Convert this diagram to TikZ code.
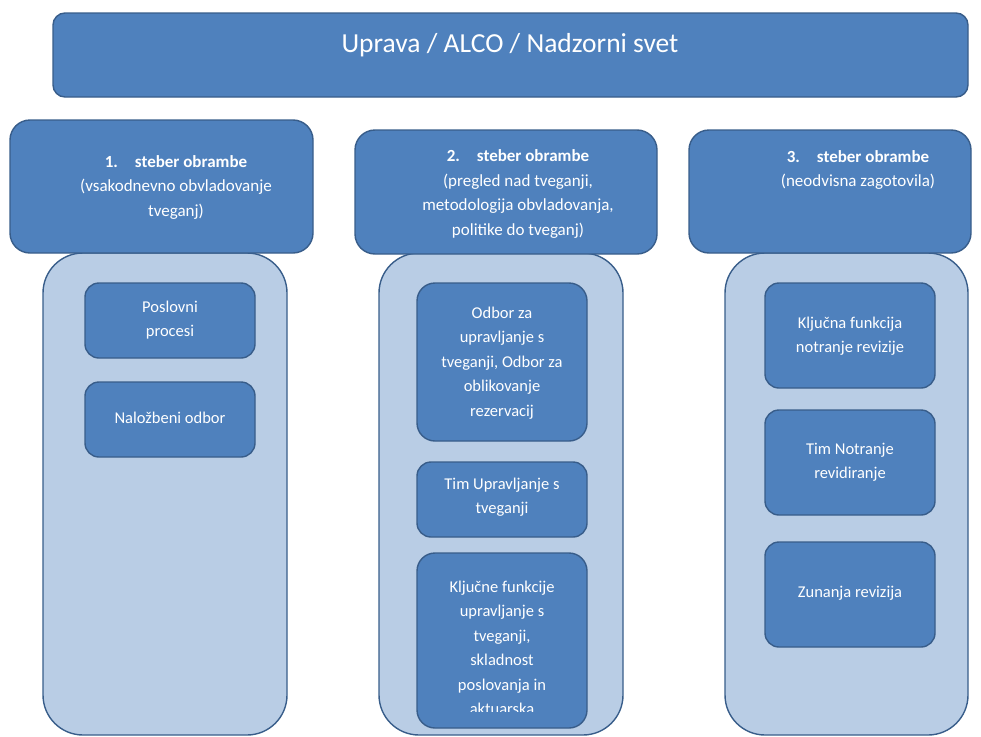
\documentclass[tikz,border=0pt]{standalone}
\usepackage{fontspec}
\setmainfont{Carlito}
\definecolor{boxblue}{HTML}{4F81BD}
\definecolor{edgeblue}{HTML}{385D8A}
\definecolor{paleblue}{HTML}{B9CDE5}
\begin{document}
\begin{tikzpicture}[x=1pt,y=-1pt,
  box/.style={draw=edgeblue,fill=boxblue,line width=1.4pt,anchor=north west,inner sep=0pt,outer sep=0pt},
  cont/.style={draw=edgeblue,fill=paleblue,line width=1.4pt,anchor=north west,inner sep=0pt,outer sep=0pt,rounded corners=40pt},
  hdrtxt/.style={text=white,align=center,font=\fontsize{17}{24.5}\selectfont},
  intxt/.style={text=white,align=center,font=\fontsize{16.5}{24.5}\selectfont},
]
\useasboundingbox (0,0) rectangle (981,736);
% containers
\node[cont,minimum width=244pt,minimum height=482pt] (c1) at (43,253) {};
\node[cont,minimum width=244pt,minimum height=482pt] (c2) at (379,253) {};
\node[cont,minimum width=243pt,minimum height=482pt] (c3) at (725,253) {};
% top box
\node[box,rounded corners=12pt,minimum width=915pt,minimum height=84pt] (top) at (53,13) {};
\node[text=white,font=\fontsize{27.5}{32}\selectfont] (toptxt) at (510,45) {Uprava / ALCO / Nadzorni svet};
% headers
\node[box,rounded corners=20pt,minimum width=303pt,minimum height=133pt] (h1) at (10,120) {};
\node[box,rounded corners=20pt,minimum width=302pt,minimum height=124pt] (h2) at (355,130) {};
\node[box,rounded corners=20pt,minimum width=282pt,minimum height=123pt] (h3) at (689,130) {};
\node[hdrtxt] (h1t) at (176,187) {\textbf{1.\hspace{1em}steber obrambe}\\(vsakodnevno obvladovanje\\tveganj)};
\node[hdrtxt] (h2t) at (518,194) {\textbf{2.\hspace{1em}steber obrambe}\\(pregled nad tveganji,\\metodologija obvladovanja,\\politike do tveganj)};
\node[hdrtxt] (h3t) at (858,170) {\textbf{3.\hspace{1em}steber obrambe}\\(neodvisna zagotovila)};
% pillar 1 boxes
\node[box,rounded corners=14pt,minimum width=170pt,minimum height=75pt] (p1a) at (85,283) {};
\node[intxt] at (170,320) {Poslovni\\procesi};
\node[box,rounded corners=14pt,minimum width=170pt,minimum height=75pt] (p1b) at (85,382) {};
\node[intxt] at (170,418) {Naložbeni odbor};
% pillar 2 boxes
\node[box,rounded corners=18pt,minimum width=170pt,minimum height=158pt] (p2a) at (417,283) {};
\node[intxt] at (502,363) {Odbor za\\upravljanje s\\tveganji, Odbor za\\oblikovanje\\rezervacij};
\node[box,rounded corners=14pt,minimum width=170pt,minimum height=75pt] (p2b) at (417,462) {};
\node[intxt] at (502,497) {Tim Upravljanje s\\tveganji};
\node[box,rounded corners=18pt,minimum width=170pt,minimum height=175pt] (p2c) at (417,553) {};
\begin{scope}
\clip (417,553) rectangle (587,711);
\node[intxt] at (502,648) {Ključne funkcije\\upravljanje s\\tveganji,\\skladnost\\poslovanja in\\aktuarska};
\end{scope}
% pillar 3 boxes
\node[box,rounded corners=14pt,minimum width=170pt,minimum height=105pt] (p3a) at (765,283) {};
\node[intxt] at (850,336) {Ključna funkcija\\notranje revizije};
\node[box,rounded corners=14pt,minimum width=170pt,minimum height=105pt] (p3b) at (765,410) {};
\node[intxt] at (850,462) {Tim Notranje\\revidiranje};
\node[box,rounded corners=14pt,minimum width=170pt,minimum height=105pt] (p3c) at (765,542) {};
\node[intxt] at (850,593) {Zunanja revizija};
\end{tikzpicture}
\end{document}
